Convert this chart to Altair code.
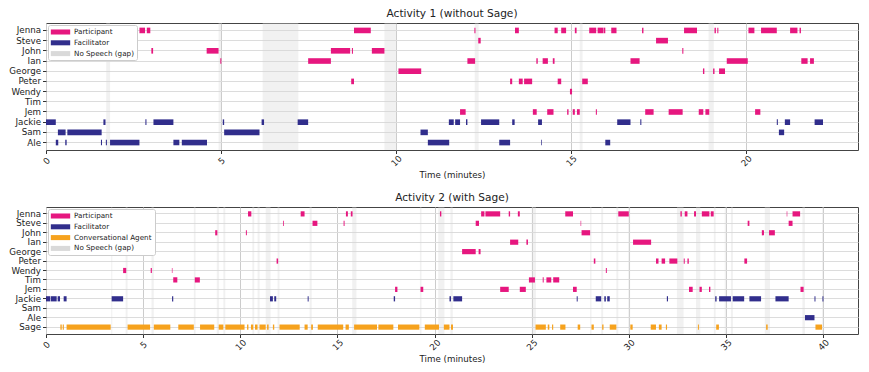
import altair as alt
import pandas as pd

# ---------------- Activity 1 (without Sage) ----------------
A1_SPEAKERS = ["Jenna", "Steve", "John", "Ian", "George", "Peter", "Wendy",
               "Tim", "Jem", "Jackie", "Sam", "Ale"]
A1_ROLE = {"Jackie": "Facilitator", "Sam": "Facilitator", "Ale": "Facilitator"}

A1_JENNA = [(2.67, 2.83), (2.88, 2.98), (8.80, 9.28), (12.24, 12.27), (13.40, 13.51),
            (14.53, 14.62), (14.72, 14.86), (15.11, 15.16), (15.52, 15.72), (15.76, 15.92),
            (15.93, 15.98), (16.15, 16.30), (17.03, 17.07), (18.23, 18.60), (19.10, 19.14),
            (19.18, 19.21), (20.07, 20.24), (20.43, 20.88), (21.26, 21.47), (21.53, 21.57)]
A1_STEVE = [(12.35, 12.42), (17.43, 17.77)]
A1_JOHN = [(3.01, 3.06), (4.59, 4.93), (8.14, 8.69), (8.74, 8.77), (9.31, 9.67), (18.18, 18.21)]
A1_IAN = [(4.98, 5.01), (7.49, 8.14), (12.04, 12.26), (14.01, 14.05), (14.19, 14.34),
          (14.48, 14.53), (16.70, 16.96), (19.45, 20.05), (21.58, 21.76), (21.83, 21.94)]
A1_GEORGE = [(10.07, 10.72), (18.77, 18.81), (19.06, 19.10), (19.23, 19.40)]
A1_PETER = [(8.72, 8.80), (13.26, 13.32), (13.51, 13.62), (13.66, 13.89), (14.62, 14.72),
            (15.32, 15.48)]
A1_WENDY = [(14.97, 15.03)]
A1_TIM = []
A1_JEM = [(11.83, 11.99), (13.91, 14.02), (14.32, 14.50), (14.89, 14.93), (15.05, 15.11),
          (15.17, 15.25), (15.71, 15.74), (17.12, 17.36), (17.79, 18.19), (18.65, 18.78),
          (18.84, 18.95), (20.26, 20.41)]
A1_JACKIE = [(0.0, 0.28), (1.64, 1.70), (2.84, 2.87), (3.07, 3.64), (5.05, 5.09), (6.16, 6.23),
             (7.19, 7.49), (11.51, 11.65), (11.69, 11.83), (12.00, 12.04), (12.43, 12.95),
             (13.32, 13.39), (14.06, 14.17), (16.32, 16.70), (16.98, 17.01), (20.88, 20.91),
             (21.11, 21.26), (21.96, 22.20)]
A1_SAM = [(0.34, 0.56), (0.61, 1.59), (5.09, 6.10), (10.70, 10.91), (20.94, 21.09)]
A1_ALE = [(0.28, 0.35), (0.55, 0.59), (1.57, 1.60), (1.71, 1.74), (1.83, 2.67), (3.64, 3.81),
          (3.88, 4.60), (10.91, 11.52), (12.95, 13.26), (14.15, 14.17), (15.98, 16.12)]
A1_GAPS = [(1.72, 1.83), (4.93, 5.00), (6.19, 7.21), (9.67, 10.00), (12.25, 12.36),
           (15.25, 15.33), (18.93, 19.08)]

A1_SEGMENTS = {"Jenna": A1_JENNA, "Steve": A1_STEVE, "John": A1_JOHN, "Ian": A1_IAN,
               "George": A1_GEORGE, "Peter": A1_PETER, "Wendy": A1_WENDY, "Tim": A1_TIM,
               "Jem": A1_JEM, "Jackie": A1_JACKIE, "Sam": A1_SAM, "Ale": A1_ALE}

# ---------------- Activity 2 (with Sage) ----------------
A2_SPEAKERS = ["Jenna", "Steve", "John", "Ian", "George", "Peter", "Wendy",
               "Tim", "Jem", "Jackie", "Sam", "Ale", "Sage"]
A2_ROLE = {"Jackie": "Facilitator", "Sam": "Facilitator", "Ale": "Facilitator",
           "Sage": "Conversational Agent"}

A2_JENNA = [(10.40, 10.57), (13.11, 13.31), (15.44, 15.54), (15.69, 15.78), (20.28, 20.35),
            (22.40, 22.57), (22.62, 23.38), (23.82, 23.89), (24.29, 24.39), (26.73, 27.13),
            (29.46, 30.00), (32.66, 32.73), (32.88, 33.02), (33.36, 33.46), (33.76, 34.15),
            (34.22, 34.37), (38.13, 38.16), (38.43, 38.82)]
A2_STEVE = [(12.20, 12.24), (13.72, 13.97), (15.32, 15.37), (22.12, 22.29), (27.52, 27.55),
            (36.12, 36.21), (38.23, 38.43)]
A2_JOHN = [(8.71, 8.82), (10.29, 10.34), (27.57, 28.01), (36.85, 36.96), (37.22, 37.52)]
A2_IAN = [(23.89, 24.31), (24.73, 24.81), (30.22, 31.15)]
A2_GEORGE = [(21.42, 22.12), (22.27, 22.37)]
A2_PETER = [(11.87, 11.95), (28.20, 28.28), (31.40, 31.53), (31.69, 31.87), (32.09, 32.50),
            (32.83, 32.88), (33.02, 33.09), (35.95, 36.09)]
A2_WENDY = [(3.97, 4.13), (5.39, 5.45), (6.48, 6.51), (28.82, 28.87)]
A2_TIM = [(6.55, 6.76), (7.66, 7.92), (24.86, 25.17), (25.57, 25.62), (25.76, 26.01),
          (26.11, 26.42)]
A2_JEM = [(17.97, 18.09), (19.28, 19.42), (23.38, 23.82), (24.39, 24.70), (27.13, 27.32),
          (33.10, 33.29), (33.64, 33.76), (34.13, 34.20), (38.84, 39.00)]
A2_JACKIE = [(0.0, 0.22), (0.25, 0.55), (0.60, 0.72), (0.91, 1.06), (3.38, 3.97), (6.49, 6.55),
             (11.53, 11.68), (11.75, 11.85), (13.47, 13.52), (17.90, 17.97), (20.77, 20.85),
             (20.97, 21.42), (27.32, 27.37), (28.30, 28.58), (28.74, 28.82), (28.89, 29.02),
             (31.96, 32.02), (34.45, 34.52), (34.65, 35.26), (35.35, 35.94), (36.21, 36.81),
             (37.55, 38.23), (39.56, 39.61), (39.97, 40.02)]
A2_SAM = []
A2_ALE = [(39.07, 39.56)]
A2_SAGE = [(0.74, 0.81), (0.86, 0.92), (1.06, 3.33), (4.20, 5.36), (5.55, 6.40), (6.81, 7.61),
           (7.93, 8.66), (8.89, 9.13), (9.23, 10.22), (10.35, 10.42), (10.55, 10.67),
           (10.76, 10.89), (10.99, 11.31), (11.38, 11.46), (11.68, 11.75), (12.02, 13.06),
           (13.31, 13.47), (13.65, 13.74), (13.99, 15.30), (15.42, 15.59), (15.86, 17.04),
           (17.11, 17.88), (18.12, 19.22), (19.50, 20.23), (20.48, 20.77), (20.85, 20.95),
           (25.20, 25.73), (25.83, 25.91), (26.05, 26.11), (26.47, 26.74), (27.37, 27.50),
           (28.08, 28.20), (28.63, 28.70), (29.02, 29.36), (30.08, 30.20), (31.13, 31.40),
           (31.55, 31.69), (31.91, 31.97), (33.56, 33.61), (34.50, 34.64), (37.07, 37.15),
           (39.61, 39.95)]
A2_GAPS = [(3.36, 3.41), (4.10, 4.20), (5.43, 5.55), (7.61, 7.70), (8.79, 8.91), (9.13, 9.23),
           (10.62, 10.72), (10.89, 11.00), (11.31, 11.56), (11.92, 12.02), (13.57, 13.68),
           (15.76, 15.98), (19.25, 19.33), (20.19, 20.51), (20.82, 20.94), (25.00, 25.22),
           (28.01, 28.08), (28.58, 28.68), (29.36, 29.46), (29.97, 30.07), (32.48, 32.82),
           (33.46, 33.68), (34.38, 34.47), (34.94, 35.04), (35.26, 35.36), (37.00, 37.27),
           (38.94, 39.07), (39.95, 40.02)]

A2_SEGMENTS = {"Jenna": A2_JENNA, "Steve": A2_STEVE, "John": A2_JOHN, "Ian": A2_IAN,
               "George": A2_GEORGE, "Peter": A2_PETER, "Wendy": A2_WENDY, "Tim": A2_TIM,
               "Jem": A2_JEM, "Jackie": A2_JACKIE, "Sam": A2_SAM, "Ale": A2_ALE,
               "Sage": A2_SAGE}

ROLE_COLORS = {"Participant": "#e6177f", "Facilitator": "#312e8c",
               "Conversational Agent": "#f6a21d", "No Speech (gap)": "#d9d9d9"}

X_TICKS_1 = [0, 5, 10, 15, 20]
X_TICKS_2 = [0, 5, 10, 15, 20, 25, 30, 35, 40]

PLOT_W = 812
PLOT_H = 127
FONT = "DejaVu Sans"


def panel(segments, roles, speakers, gaps, xmax, ticks, title, role_domain):
    rows = []
    for spk in speakers:
        for s, e in segments[spk]:
            rows.append({"speaker": spk, "start": s, "end": e,
                         "role": roles.get(spk, "Participant")})
    seg_df = pd.DataFrame(rows)
    gap_df = pd.DataFrame([{"start": s, "end": e, "role": "No Speech (gap)"} for s, e in gaps])

    cscale = alt.Scale(domain=role_domain, range=[ROLE_COLORS[r] for r in role_domain])
    legend = alt.Legend(title=None, orient="top-left", offset=2, fillColor="white",
                        strokeColor="#cccccc", cornerRadius=2, padding=3,
                        labelFontSize=7.2, labelFont=FONT, labelColor="#222222",
                        symbolType="M-2.5,-0.65H2.5V0.65H-2.5Z", symbolSize=60,
                        symbolStrokeWidth=0, symbolOpacity=1, symbolOffset=5.5,
                        rowPadding=2.8, labelOffset=9.5)
    xscale = alt.Scale(domain=[0, xmax], nice=False, zero=False)
    xaxis = alt.Axis(values=ticks, title="Time (minutes)", labelAngle=-45,
                     labelAlign="center", labelBaseline="middle", labelPadding=7,
                     format="d", grid=True, gridColor="#cccccc", gridWidth=1,
                     tickColor="#333333", tickSize=3.5, domain=False,
                     labelFontSize=8.7, titleFontSize=8.7, titleFontWeight="normal",
                     titlePadding=3, labelColor="#222222", titleColor="#222222")

    gap_layer = alt.Chart(gap_df).mark_rect(opacity=0.36).encode(
        x=alt.X("start:Q", scale=xscale, axis=xaxis),
        x2="end:Q",
        color=alt.Color("role:N", scale=cscale, legend=legend),
    )
    bar_layer = alt.Chart(seg_df).mark_bar(height=alt.RelativeBandSize(0.55)).encode(
        x=alt.X("start:Q", scale=xscale, axis=xaxis),
        x2="end:Q",
        y=alt.Y("speaker:N", sort=speakers,
                scale=alt.Scale(domain=speakers, paddingInner=0, paddingOuter=0.23),
                axis=alt.Axis(title=None, grid=True, gridColor="#dcdcdc", gridWidth=1,
                              tickColor="#333333", tickSize=3.5, labelPadding=2,
                              labelFontSize=8.7, labelColor="#222222", domain=False,
                              bandPosition=0.5)),
        color=alt.Color("role:N", scale=cscale, legend=legend),
    )
    return alt.layer(gap_layer, bar_layer).properties(
        width=PLOT_W, height=PLOT_H,
        title=alt.TitleParams(title, fontSize=10.6, fontWeight="normal", font=FONT,
                              color="#222222", offset=3),
    )


top = panel(A1_SEGMENTS, A1_ROLE, A1_SPEAKERS, A1_GAPS, 23.2, X_TICKS_1,
            "Activity 1 (without Sage)", ["Participant", "Facilitator", "No Speech (gap)"])
bottom = panel(A2_SEGMENTS, A2_ROLE, A2_SPEAKERS, A2_GAPS, 41.8, X_TICKS_2,
               "Activity 2 (with Sage)",
               ["Participant", "Facilitator", "Conversational Agent", "No Speech (gap)"])

chart = alt.vconcat(top, bottom, spacing=12).resolve_scale(
    color="independent", x="independent", y="independent"
).properties(padding=0).configure(font=FONT).configure_view(
    stroke="#444444", strokeWidth=1
)

chart.save("out.html", embed_options={"renderer": "svg", "actions": False})
